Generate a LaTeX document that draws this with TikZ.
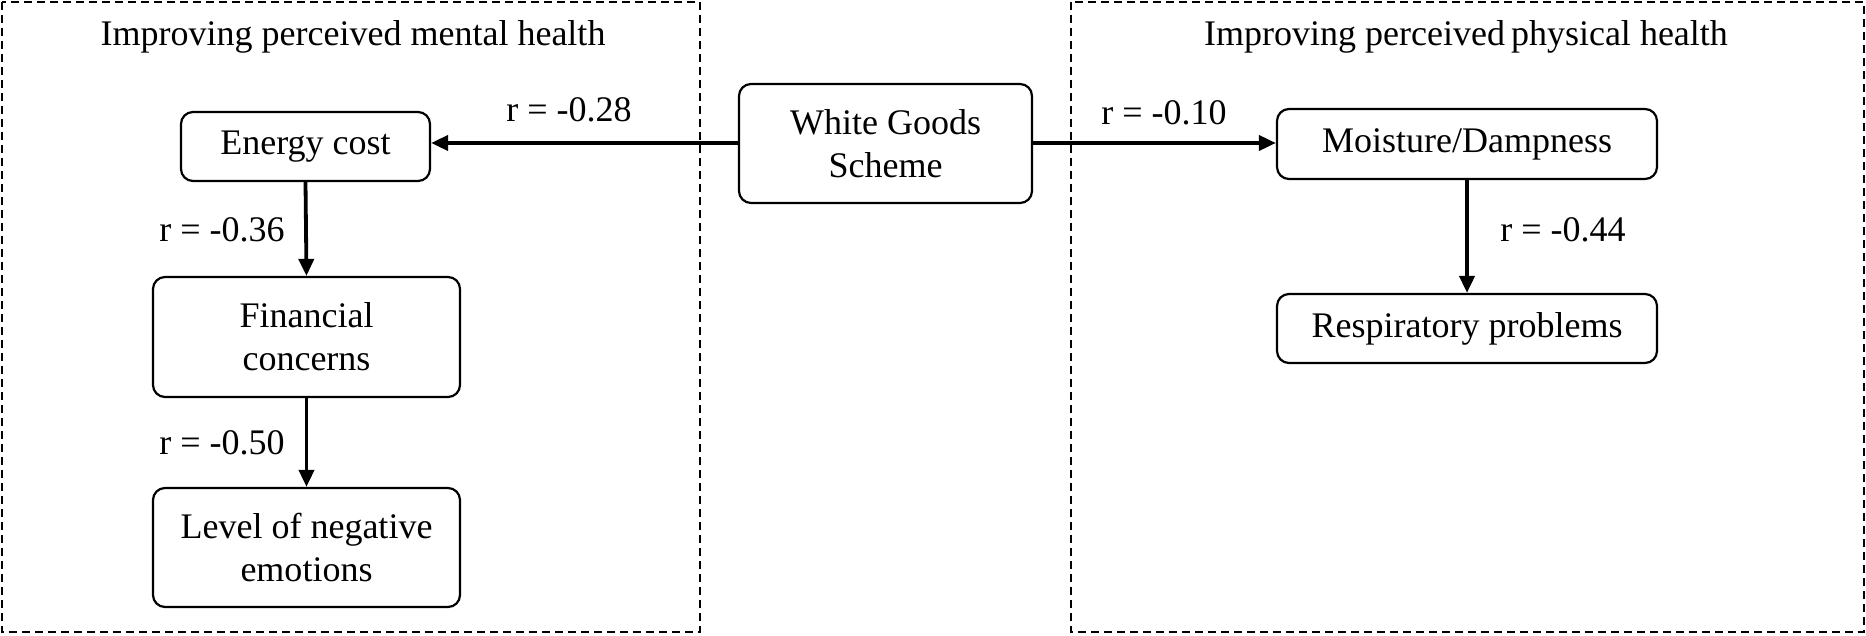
\documentclass[tikz,border=0pt]{standalone}
\usepackage{fontspec}
\setmainfont{Liberation Serif}
\usetikzlibrary{arrows.meta}
\begin{document}
\begin{tikzpicture}[x=0.5pt,y=-0.5pt,
  box/.style={draw,line width=1.1pt,rounded corners=6pt,align=center,inner sep=0pt,
    font=\fontsize{18}{21.5}\selectfont},
  grp/.style={draw,line width=0.9pt,dash pattern=on 4pt off 2.5pt},
  conn/.style={line width=1.9pt,-{Triangle[length=8.5pt,width=7.5pt]}},
  lbl/.style={font=\fontsize{18}{21.5}\selectfont,inner sep=0pt},
  ttl/.style={font=\fontsize{18}{21.5}\selectfont,inner sep=0pt}]
\useasboundingbox (0,0) rectangle (1866,636);
% group frames
\draw[grp] (2,2) rectangle (700,632);
\draw[grp] (1071,2) rectangle (1864,632);
\node[ttl] (tl) at (353,37) {Improving perceived mental health};
\node[ttl] (tr) at (1466,37) {Improving perceived\,physical health};
% nodes
\node[box,minimum width=124.5pt,minimum height=34.5pt] (ec) at (305.5,146.5) {Energy cost};
\node[box,minimum width=153.5pt,minimum height=60pt] (fc) at (306.5,337) {Financial\\concerns};
\node[box,minimum width=153.5pt,minimum height=59.5pt] (ln) at (306.5,547.5) {Level of negative\\emotions};
\node[box,minimum width=146.5pt,minimum height=59.5pt] (wg) at (885.5,143.5) {White Goods\\Scheme};
\node[box,minimum width=190pt,minimum height=35pt] (md) at (1467,144) {Moisture/Dampness};
\node[box,minimum width=190pt,minimum height=34.5pt] (rp) at (1467,328.5) {Respiratory problems};
% connectors
\coordinate (wl) at ([yshift=0.25pt]wg.west);
\coordinate (wr) at ([yshift=0.25pt]wg.east);
\draw[conn] (wl) -- (wl -| ec.east);
\draw[conn] (wr) -- (wr -| md.west);
\draw[conn] (ec.south) -- (fc.north);
\draw[conn] (fc.south) -- (ln.north);
\draw[conn] (md.south) -- (rp.north);
% labels
\node[lbl] (l1) at (569,110) {r = -0.28};
\node[lbl] (l2) at (1164,113) {r = -0.10};
\node[lbl] (l3) at (222,230) {r = -0.36};
\node[lbl] (l4) at (222,443) {r = -0.50};
\node[lbl] (l5) at (1563,230) {r = -0.44};
\end{tikzpicture}
\end{document}
